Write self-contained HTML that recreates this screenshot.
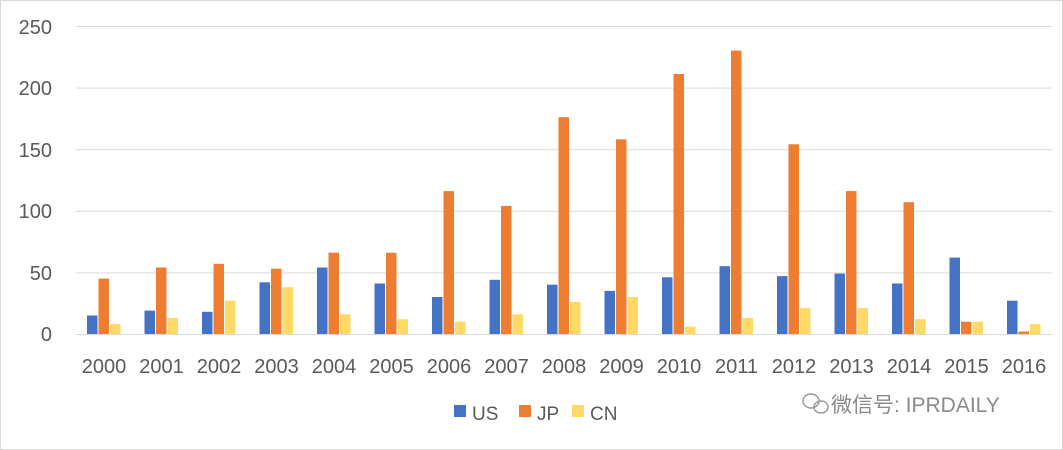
<!DOCTYPE html>
<html><head><meta charset="utf-8"><style>
html,body{margin:0;padding:0;background:#fff;}
svg{display:block;font-family:"Liberation Sans","Noto Sans CJK SC",sans-serif;}
</style></head><body>
<svg width="1063" height="450" viewBox="0 0 1063 450" xmlns="http://www.w3.org/2000/svg">
<rect x="0.5" y="0.5" width="1062" height="449" fill="#fff" stroke="#d9d9d9"/>
<g stroke="#d9d9d9" stroke-width="1">
<line x1="76" x2="1052" y1="26.5" y2="26.5"/>
<line x1="76" x2="1052" y1="88.1" y2="88.1"/>
<line x1="76" x2="1052" y1="149.7" y2="149.7"/>
<line x1="76" x2="1052" y1="211.3" y2="211.3"/>
<line x1="76" x2="1052" y1="272.9" y2="272.9"/>
<line x1="76" x2="1052" y1="334.5" y2="334.5"/>
</g>
<g fill="#595959" font-size="20" text-anchor="end">
<text x="52" y="341">0</text><text x="52" y="280">50</text><text x="52" y="218">100</text>
<text x="52" y="157">150</text><text x="52" y="95">200</text><text x="52" y="34">250</text>
</g>
<g fill="#4472C4">
<rect x="87" y="315.5" width="10.5" height="18.5"/>
<rect x="144.5" y="310.6" width="10.5" height="23.4"/>
<rect x="202" y="311.8" width="10.5" height="22.2"/>
<rect x="259.5" y="282.3" width="10.5" height="51.7"/>
<rect x="317" y="267.5" width="10.5" height="66.5"/>
<rect x="374.5" y="283.5" width="10.5" height="50.5"/>
<rect x="432" y="297" width="10.5" height="37"/>
<rect x="489.5" y="279.8" width="10.5" height="54.2"/>
<rect x="547" y="284.7" width="10.5" height="49.3"/>
<rect x="604.5" y="290.9" width="10.5" height="43.1"/>
<rect x="662" y="277.3" width="10.5" height="56.7"/>
<rect x="719.5" y="266.2" width="10.5" height="67.8"/>
<rect x="777" y="276.1" width="10.5" height="57.9"/>
<rect x="834.5" y="273.6" width="10.5" height="60.4"/>
<rect x="892" y="283.5" width="10.5" height="50.5"/>
<rect x="949.5" y="257.6" width="10.5" height="76.4"/>
<rect x="1007" y="300.7" width="10.5" height="33.3"/>
</g>
<g fill="#ED7D31">
<rect x="98.5" y="278.6" width="10.5" height="55.4"/>
<rect x="156" y="267.5" width="10.5" height="66.5"/>
<rect x="213.5" y="263.8" width="10.5" height="70.2"/>
<rect x="271" y="268.7" width="10.5" height="65.3"/>
<rect x="328.5" y="252.7" width="10.5" height="81.3"/>
<rect x="386" y="252.7" width="10.5" height="81.3"/>
<rect x="443.5" y="191.1" width="10.5" height="142.9"/>
<rect x="501" y="205.9" width="10.5" height="128.1"/>
<rect x="558.5" y="117.2" width="10.5" height="216.8"/>
<rect x="616" y="139.3" width="10.5" height="194.7"/>
<rect x="673.5" y="74" width="10.5" height="260"/>
<rect x="731" y="50.6" width="10.5" height="283.4"/>
<rect x="788.5" y="144.3" width="10.5" height="189.7"/>
<rect x="846" y="191.1" width="10.5" height="142.9"/>
<rect x="903.5" y="202.2" width="10.5" height="131.8"/>
<rect x="961" y="321.7" width="10.5" height="12.3"/>
<rect x="1018.5" y="331.5" width="10.5" height="2.5"/>
</g>
<g fill="#FFD966">
<rect x="110" y="324.1" width="10.5" height="9.9"/>
<rect x="167.5" y="318" width="10.5" height="16"/>
<rect x="225" y="300.7" width="10.5" height="33.3"/>
<rect x="282.5" y="287.2" width="10.5" height="46.8"/>
<rect x="340" y="314.3" width="10.5" height="19.7"/>
<rect x="397.5" y="319.2" width="10.5" height="14.8"/>
<rect x="455" y="321.7" width="10.5" height="12.3"/>
<rect x="512.5" y="314.3" width="10.5" height="19.7"/>
<rect x="570" y="302" width="10.5" height="32"/>
<rect x="627.5" y="297" width="10.5" height="37"/>
<rect x="685" y="326.6" width="10.5" height="7.4"/>
<rect x="742.5" y="318" width="10.5" height="16"/>
<rect x="800" y="308.1" width="10.5" height="25.9"/>
<rect x="857.5" y="308.1" width="10.5" height="25.9"/>
<rect x="915" y="319.2" width="10.5" height="14.8"/>
<rect x="972.5" y="321.7" width="10.5" height="12.3"/>
<rect x="1030" y="324.1" width="10.5" height="9.9"/>
</g>
<g fill="#595959" font-size="20" text-anchor="middle">
<text x="104" y="373">2000</text><text x="161.5" y="373">2001</text><text x="219" y="373">2002</text>
<text x="276.5" y="373">2003</text><text x="334" y="373">2004</text><text x="391.5" y="373">2005</text>
<text x="449" y="373">2006</text><text x="506.5" y="373">2007</text><text x="564" y="373">2008</text>
<text x="621.5" y="373">2009</text><text x="679" y="373">2010</text><text x="736.5" y="373">2011</text>
<text x="794" y="373">2012</text><text x="851.5" y="373">2013</text><text x="909" y="373">2014</text>
<text x="966.5" y="373">2015</text><text x="1024" y="373">2016</text>
</g>
<rect x="454" y="405" width="12" height="12" fill="#4472C4"/>
<text x="472" y="420" font-size="19" fill="#595959">US</text>
<rect x="519" y="405" width="12" height="12" fill="#ED7D31"/>
<text x="537" y="420" font-size="19" fill="#595959">JP</text>
<rect x="572" y="405" width="12" height="12" fill="#FFD966"/>
<text x="590" y="420" font-size="19" fill="#595959">CN</text>
<g fill="none" stroke="#9a9a9a" stroke-width="1.5">
<ellipse cx="811" cy="401" rx="8" ry="7"/><ellipse cx="821" cy="407" rx="7" ry="6"/>
</g>
<text x="831" y="412" font-size="21" fill="#8a8a8a">微信号: IPRDAILY</text>
</svg>
</body></html>
